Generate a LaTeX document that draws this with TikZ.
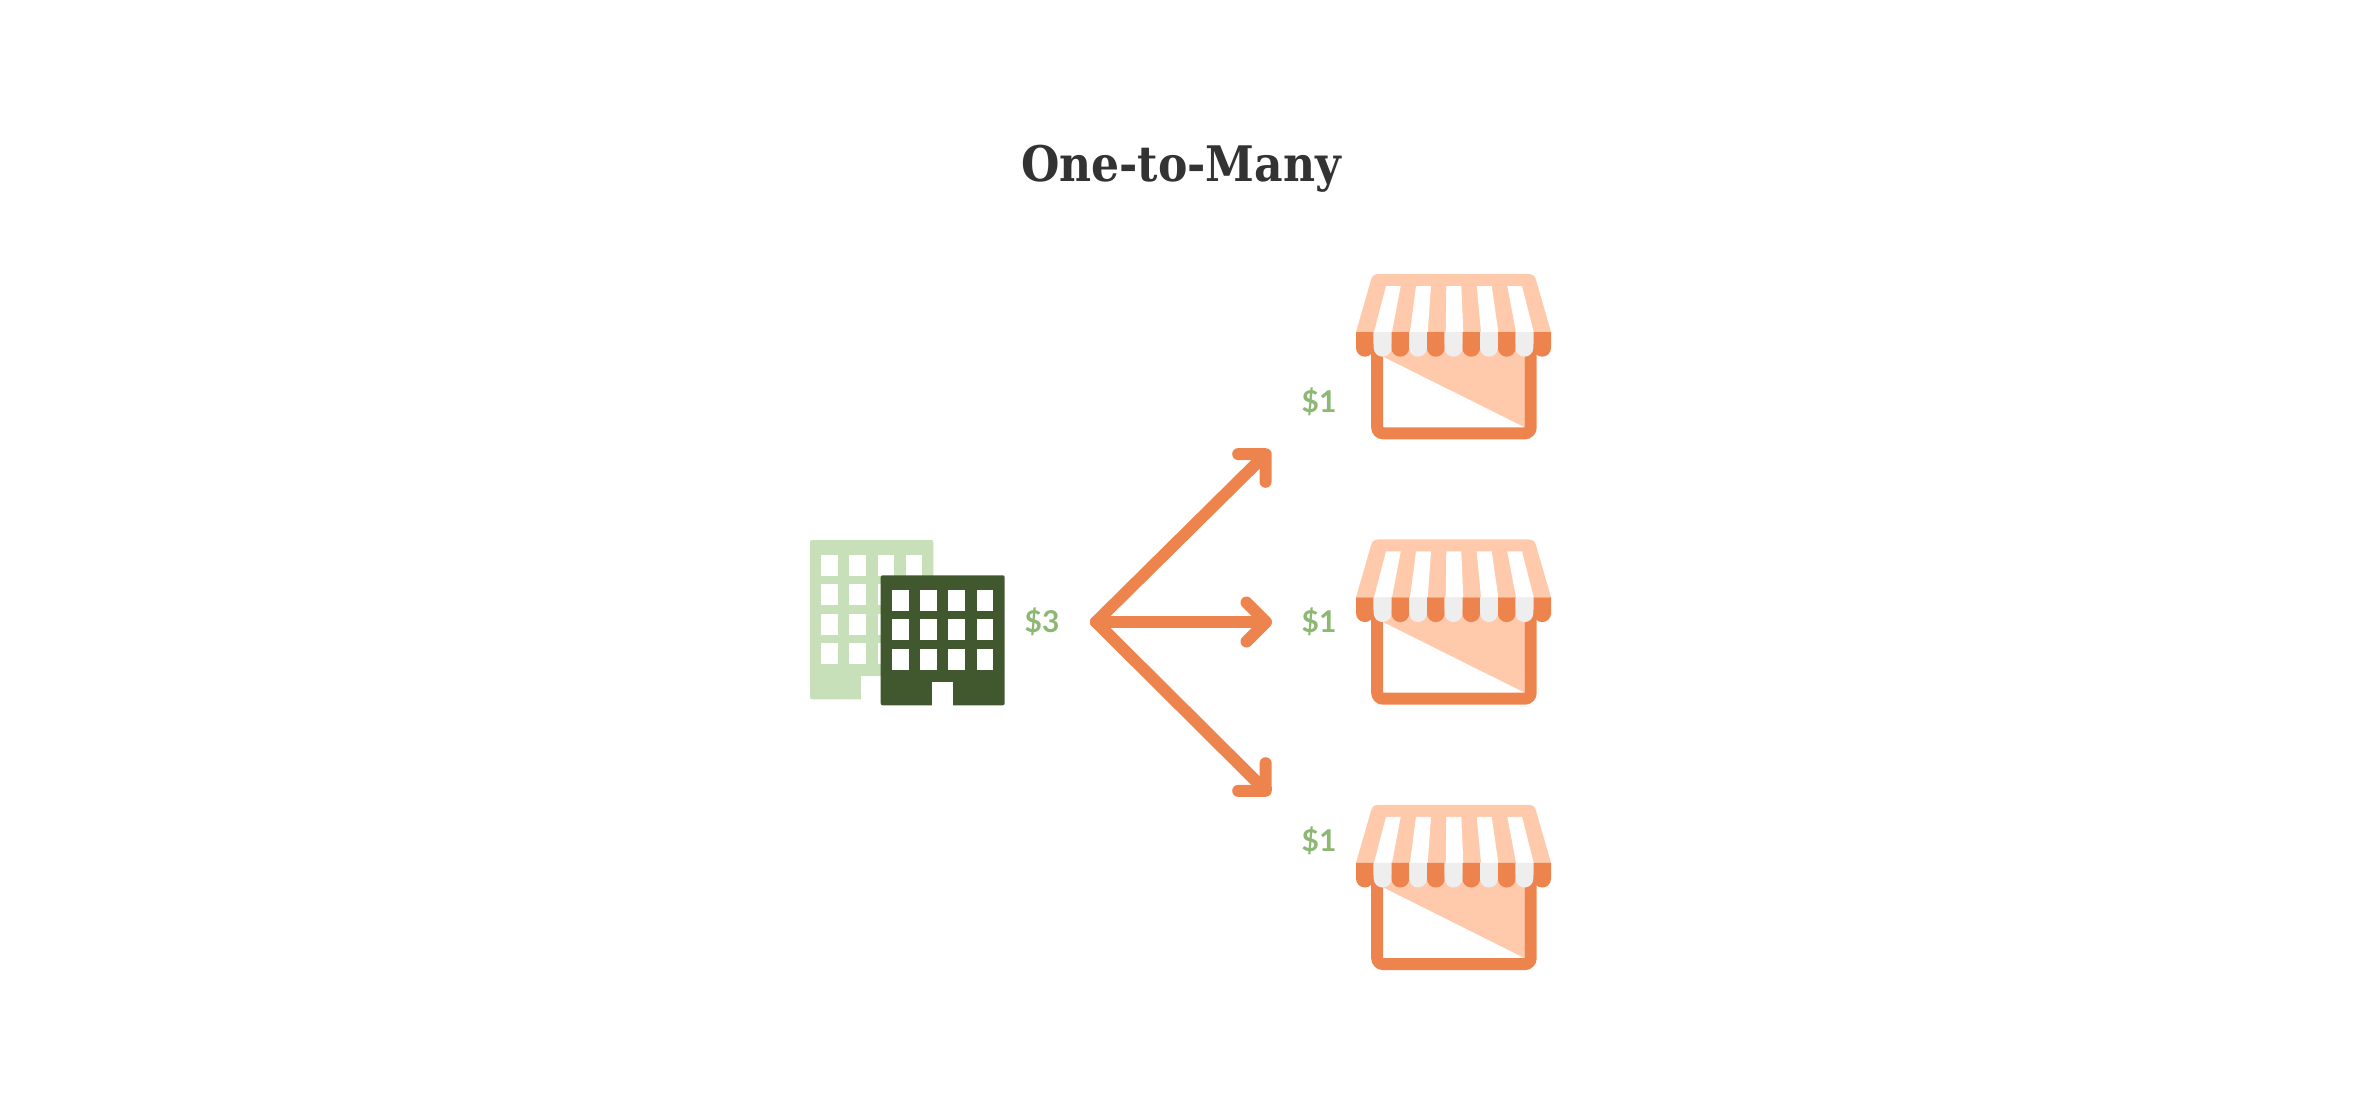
\documentclass[tikz,border=0pt]{standalone}
\usepackage{fontspec}
\usetikzlibrary{arrows.meta}
\newfontfamily\titlefont{DejaVu Serif Condensed}
\newfontfamily\labelfont{Lato}
\definecolor{storeorange}{HTML}{EE844D}
\definecolor{storepeach}{HTML}{FFC9AB}
\definecolor{storegrey}{HTML}{EEEEEE}
\definecolor{farblock}{HTML}{C8E0B9}
\definecolor{nearblock}{HTML}{41582F}
\definecolor{moneygreen}{HTML}{8DB874}
\tikzset{
	title node/.style={text=black!80, font=\titlefont\bfseries\fontsize{49}{49}\selectfont, inner sep=0},
	money node/.style={text=moneygreen, font=\labelfont\bfseries\fontsize{30}{30}\selectfont, inner sep=0},
	flow line/.style={draw=storeorange, line width=12pt, line cap=round, line join=round},
	flow head/.style={-{Straight Barb[round, length=19.5pt, width=39pt]}},
	store/.pic={
		% awning
		\fill[storepeach] (0,58) -- (15,6) .. controls (16,2) and (18,0) .. (23,0) -- (172,0) .. controls (177,0) and (179,2) .. (180,6) -- (195,58) -- cycle;
		\foreach \tl/\tr/\bl/\br in {30/44.7/18/36, 60/75/54/71.7, 90.3/105.3/89.7/107.3, 120.7/135.7/125/142.3, 151.3/166/160/177.7}
			\fill[white] (\tl,12) -- (\tr,12) -- (\br,58) -- (\bl,58) -- cycle;
		% shop front
		\fill[storepeach] (27.3,70) -- (168.7,70) -- (168.7,153.3) -- (27.3,82.7) -- cycle;
		\draw[storeorange, line width=12pt, rounded corners=6pt] (21.2,70) -- (21.2,159.3) -- (174.7,159.3) -- (174.7,70);
		% scallops
		\foreach \i in {0,2,...,10}
			\fill[storeorange, rounded corners=8.8pt] (\i*17.73,58) -- (\i*17.73,82.7) -- (\i*17.73+17.73,82.7) -- (\i*17.73+17.73,58);
		\foreach \i in {1,3,...,9}
			\fill[storegrey, rounded corners=8.8pt] (\i*17.73,58) -- (\i*17.73,82.7) -- (\i*17.73+17.73,82.7) -- (\i*17.73+17.73,58);
	},
}

\begin{document}
\begin{tikzpicture}[x=1pt, y=-1pt]
	\useasboundingbox (0,0) rectangle (2364,1114);

	\node[title node] (title) at (1181,169) {One-to-Many};

	% back building
	\fill[farblock, rounded corners=2pt] (810,540) rectangle (933.3,699.3);
	\fill[white] (861,675.7) rectangle (882,700);
	\foreach \wx in {821.3,849.3,877.7,905.7}
		\foreach \wy in {555,584,614,643.3}
			\fill[white] (\wx,\wy) rectangle ++(16.4,20.6);

	% front building
	\fill[nearblock, rounded corners=2pt] (880.7,575.3) rectangle (1004.7,705.3);
	\fill[white] (932.3,681.7) rectangle (953,706);
	\foreach \wx in {892.3,920.3,948.3,976.7}
		\foreach \wy in {590,619.3,649.3}
			\fill[white] (\wx,\wy) rectangle ++(16.4,20.8);

	\node[money node] (total) at (1042,622) {\$3};

	\coordinate (hub) at (1096,622);
	\coordinate (tip1) at (1270,450);
	\coordinate (tip2) at (1272,622);
	\coordinate (tip3) at (1270,795);
	\draw[flow line, flow head] (hub) -- (tip1);
	\draw[flow line, flow head] (hub) -- (tip2);
	\draw[flow line, flow head] (hub) -- (tip3);

	\pic (store1) at (1356,274) {store};
	\pic (store2) at (1356,539.4) {store};
	\pic (store3) at (1356,804.8) {store};

	\node[money node] (share1) at (1319,402) {\$1};
	\node[money node] (share2) at (1319,622) {\$1};
	\node[money node] (share3) at (1319,841) {\$1};
\end{tikzpicture}
\end{document}
